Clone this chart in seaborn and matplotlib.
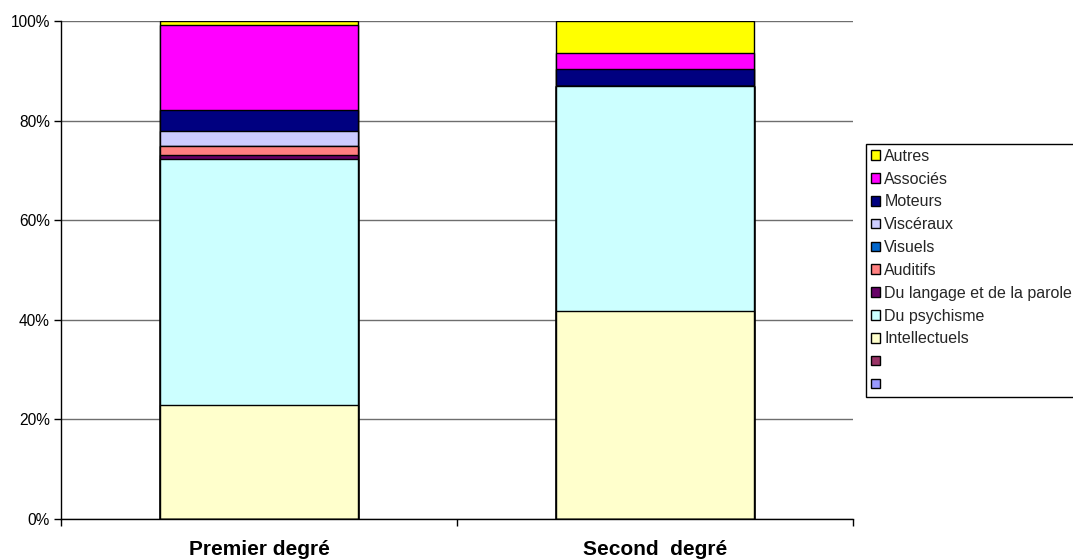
import numpy as np
import pandas as pd
import matplotlib
matplotlib.use("Agg")
import matplotlib.pyplot as plt
from matplotlib.patches import Patch
from matplotlib.ticker import PercentFormatter, FixedLocator
import seaborn as sns

# Share of pupils by type of disability, per school level (percent)
categories = ["Premier degré", "Second  degré"]

# Series, bottom of the stack first
series_names = ["", "", "Intellectuels", "Du psychisme", "Du langage et de la parole",
                "Auditifs", "Visuels", "Viscéraux", "Moteurs", "Associés", "Autres"]
blank_a = [0.0, 0.0]
blank_b = [0.0, 0.0]
intellectuels = [22.8, 41.8]
psychisme = [49.5, 45.2]
langage = [0.8, 0.0]
auditifs = [1.8, 0.0]
visuels = [0.0, 0.0]
visceraux = [3.1, 0.0]
moteurs = [4.2, 3.3]
associes = [17.0, 3.2]
autres = [0.8, 6.5]

series_colors = ["#9999FF", "#993366", "#FFFFCC", "#CCFFFF", "#660066",
                 "#FF8080", "#0066CC", "#CCCCFF", "#000080", "#FF00FF", "#FFFF00"]

values = [blank_a, blank_b, intellectuels, psychisme, langage, auditifs,
          visuels, visceraux, moteurs, associes, autres]

sns.set_theme(style="white")
plt.rcParams["font.family"] = ["Liberation Sans", "DejaVu Sans"]

fig = plt.figure(figsize=(10.73, 5.60), dpi=100)
ax = fig.add_axes([61 / 1073, 41 / 560, (853 - 61) / 1073, (519 - 21) / 560])

# cumulative tops, drawn from the highest layer down so each layer shows its own band
cum = np.cumsum(np.array(values), axis=0) / 100.0
for i in range(len(values) - 1, -1, -1):
    df = pd.DataFrame({"cat": categories, "val": cum[i]})
    sns.barplot(data=df, x="cat", y="val", color=series_colors[i], saturation=1,
                width=0.5, edgecolor="black", linewidth=1.0, ax=ax, zorder=3)

ax.set_xlim(-0.5, 1.5)
ax.set_ylim(0, 1.0)
ax.set_xlabel("")
ax.set_ylabel("")

ax.yaxis.set_major_locator(FixedLocator([0, 0.2, 0.4, 0.6, 0.8, 1.0]))
ax.yaxis.set_major_formatter(PercentFormatter(1.0, decimals=0))
ax.grid(axis="y", color="#6e6e6e", linewidth=1.0, zorder=0)
ax.grid(axis="x", visible=False)

for side in ["top", "right"]:
    ax.spines[side].set_visible(False)
for side in ["left", "bottom"]:
    ax.spines[side].set_color("black")
    ax.spines[side].set_linewidth(1.0)
    ax.spines[side].set_zorder(4)

ax.tick_params(axis="y", which="major", direction="out", length=5, width=1,
               color="black", left=True, labelsize=11.2, pad=3, labelcolor="black")
ax.set_xticks([0, 1])
ax.set_xticklabels(categories, fontsize=15, fontweight="bold", color="black")
ax.tick_params(axis="x", which="major", length=0, pad=15)
ax.set_xticks([-0.5, 0.5, 1.5], minor=True)
ax.tick_params(axis="x", which="minor", direction="out", length=5, width=1,
               color="black", bottom=True)

# legend lists the top of the stack first
handles = [Patch(facecolor=c, edgecolor="black", linewidth=1.0)
           for c in series_colors[::-1]]
labels = [n if n else " " for n in series_names[::-1]]
leg = fig.legend(handles, labels, loc="upper left",
                 bbox_to_anchor=(866 / 1073, 1 - 144 / 560),
                 bbox_transform=fig.transFigure,
                 fontsize=11.5, frameon=True, fancybox=False,
                 edgecolor="black", framealpha=1, borderpad=0.3,
                 labelspacing=0.49, handlelength=0.55, handleheight=0.55,
                 handletextpad=0.3, borderaxespad=0)
leg.get_frame().set_linewidth(1.0)

fig.savefig("out.png", dpi=100)
